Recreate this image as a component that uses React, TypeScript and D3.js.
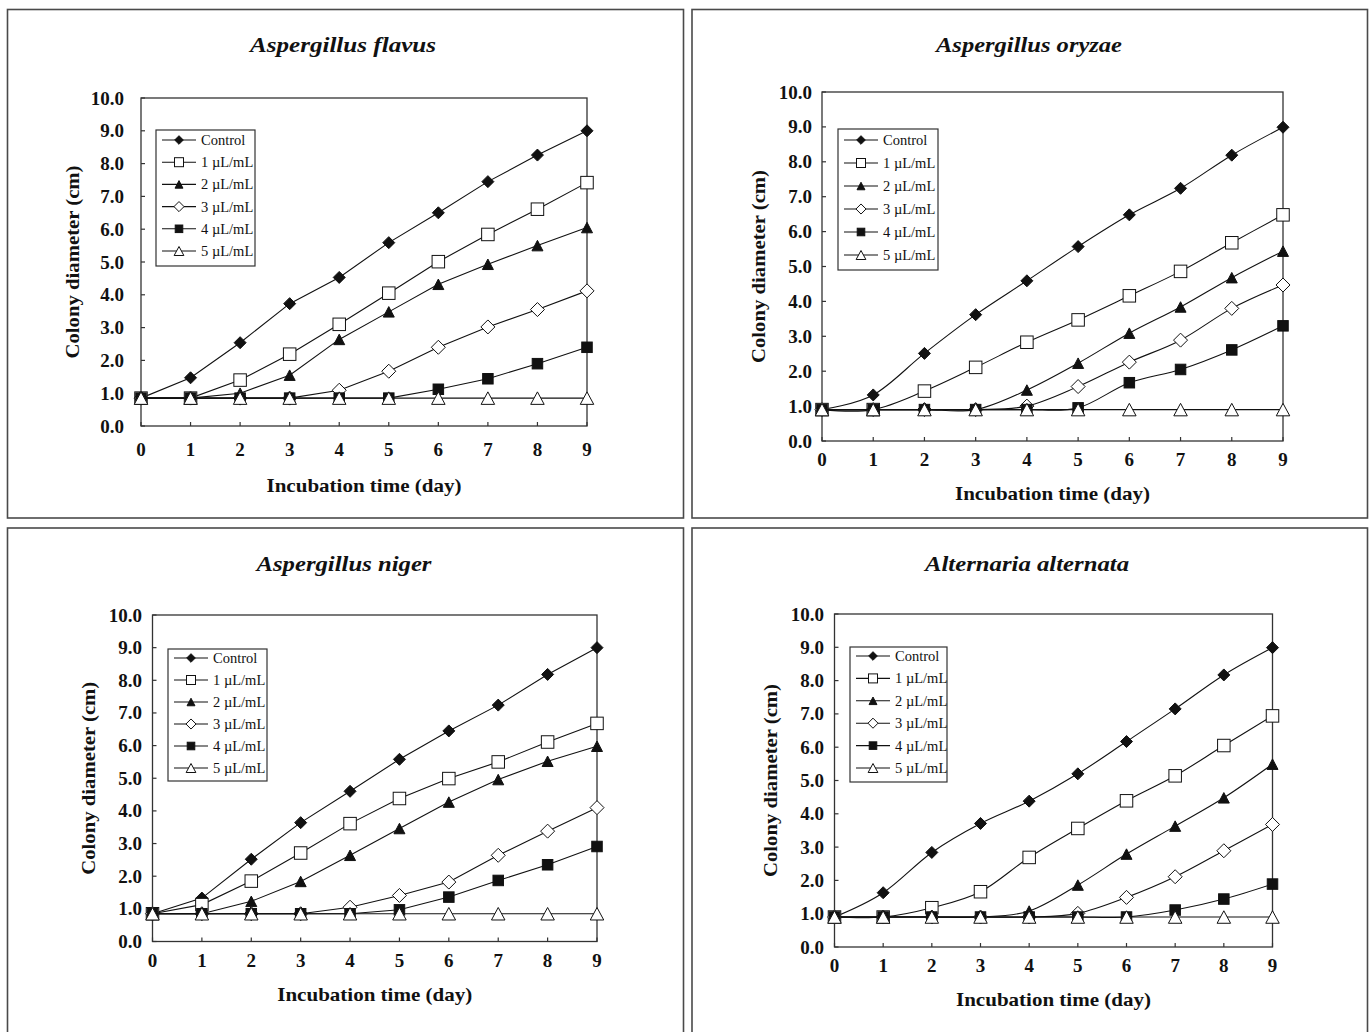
import * as d3 from "d3";

// x categories and tick labels
const days = [0, 1, 2, 3, 4, 5, 6, 7, 8, 9];
const yTicks = [0, 1, 2, 3, 4, 5, 6, 7, 8, 9, 10];
const seriesLabels = ["Control", "1 µL/mL", "2 µL/mL", "3 µL/mL", "4 µL/mL", "5 µL/mL"];

// Aspergillus flavus
const flavusControl = [0.85, 1.47, 2.54, 3.73, 4.53, 5.59, 6.5, 7.45, 8.26, 9.0];
const flavus1 = [0.85, 0.85, 1.4, 2.19, 3.1, 4.05, 5.01, 5.84, 6.61, 7.42];
const flavus2 = [0.85, 0.85, 1.0, 1.55, 2.64, 3.48, 4.32, 4.93, 5.5, 6.05];
const flavus3 = [0.85, 0.85, 0.85, 0.85, 1.09, 1.67, 2.4, 3.02, 3.55, 4.12];
const flavus4 = [0.85, 0.85, 0.85, 0.85, 0.85, 0.85, 1.12, 1.44, 1.9, 2.4];
const flavus5 = [0.85, 0.85, 0.85, 0.85, 0.85, 0.85, 0.85, 0.85, 0.85, 0.85];

// Aspergillus oryzae
const oryzaeControl = [0.9, 1.32, 2.51, 3.62, 4.59, 5.57, 6.48, 7.24, 8.19, 8.99];
const oryzae1 = [0.9, 0.9, 1.43, 2.11, 2.83, 3.47, 4.16, 4.86, 5.68, 6.48];
const oryzae2 = [0.9, 0.9, 0.9, 0.9, 1.46, 2.23, 3.09, 3.84, 4.68, 5.44];
const oryzae3 = [0.9, 0.9, 0.9, 0.9, 1.0, 1.56, 2.26, 2.89, 3.8, 4.47];
const oryzae4 = [0.9, 0.9, 0.9, 0.9, 0.9, 0.95, 1.67, 2.05, 2.61, 3.3];
const oryzae5 = [0.9, 0.9, 0.9, 0.9, 0.9, 0.9, 0.9, 0.9, 0.9, 0.9];

// Aspergillus niger
const nigerControl = [0.85, 1.33, 2.52, 3.64, 4.6, 5.58, 6.45, 7.24, 8.18, 9.0];
const niger1 = [0.85, 1.13, 1.85, 2.71, 3.61, 4.38, 4.99, 5.5, 6.11, 6.68];
const niger2 = [0.85, 0.85, 1.23, 1.84, 2.64, 3.46, 4.27, 4.96, 5.52, 5.98];
const niger3 = [0.85, 0.85, 0.85, 0.85, 1.05, 1.41, 1.82, 2.64, 3.38, 4.1];
const niger4 = [0.85, 0.85, 0.85, 0.85, 0.85, 0.97, 1.36, 1.87, 2.35, 2.91];
const niger5 = [0.85, 0.85, 0.85, 0.85, 0.85, 0.85, 0.85, 0.85, 0.85, 0.85];

// Alternaria alternata
const alternataControl = [0.9, 1.63, 2.84, 3.71, 4.38, 5.2, 6.17, 7.15, 8.17, 8.99];
const alternata1 = [0.9, 0.9, 1.18, 1.66, 2.69, 3.56, 4.39, 5.14, 6.05, 6.94];
const alternata2 = [0.9, 0.9, 0.9, 0.9, 1.08, 1.86, 2.79, 3.63, 4.48, 5.49];
const alternata3 = [0.9, 0.9, 0.9, 0.9, 0.9, 1.01, 1.49, 2.11, 2.89, 3.68];
const alternata4 = [0.9, 0.9, 0.9, 0.9, 0.9, 0.9, 0.9, 1.11, 1.44, 1.89];
const alternata5 = [0.9, 0.9, 0.9, 0.9, 0.9, 0.9, 0.9, 0.9, 0.9, 0.9];

const FONT = "'Liberation Serif', 'Times New Roman', serif";
const INK = "#111";

const markerKinds = ["diamondFilled", "squareOpen", "triangleFilled", "diamondOpen", "squareFilled", "triangleOpen"];

const panels = [
  {
    title: "Aspergillus flavus", titleLen: 186, titleX: 343, titleY: 45,
    series: [flavusControl, flavus1, flavus2, flavus3, flavus4, flavus5],
    frame: { x: 7.5, y: 9.5, w: 676, h: 508.5 },
    plot: { l: 141, r: 587, t: 98, b: 426 },
    yLabelGap: 17, xLabelDy: 30, yTitleX: 72, xTitleY: 485,
    legend: { x: 156, y: 130, w: 99, h: 136, row0: 140, step: 22.2 },
    smooth: false,
  },
  {
    title: "Aspergillus oryzae", titleLen: 186, titleX: 1029, titleY: 45,
    series: [oryzaeControl, oryzae1, oryzae2, oryzae3, oryzae4, oryzae5],
    frame: { x: 692, y: 9.5, w: 675.5, h: 508.5 },
    plot: { l: 822, r: 1283, t: 92, b: 441 },
    yLabelGap: 10, xLabelDy: 25, yTitleX: 758, xTitleY: 493,
    legend: { x: 838, y: 129, w: 100, h: 141, row0: 140, step: 23 },
    smooth: true,
  },
  {
    title: "Aspergillus niger", titleLen: 175, titleX: 344, titleY: 564,
    series: [nigerControl, niger1, niger2, niger3, niger4, niger5],
    frame: { x: 7.5, y: 528, w: 676, h: 520 },
    plot: { l: 152.5, r: 597, t: 615, b: 941.5 },
    yLabelGap: 10.5, xLabelDy: 25, yTitleX: 88, xTitleY: 994,
    legend: { x: 168, y: 649, w: 99, h: 132, row0: 658, step: 22 },
    smooth: false,
  },
  {
    title: "Alternaria alternata", titleLen: 204, titleX: 1027, titleY: 564,
    series: [alternataControl, alternata1, alternata2, alternata3, alternata4, alternata5],
    frame: { x: 692, y: 528, w: 675.5, h: 520 },
    plot: { l: 834.5, r: 1272.5, t: 614, b: 947 },
    yLabelGap: 10.5, xLabelDy: 25, yTitleX: 770, xTitleY: 999,
    legend: { x: 850, y: 647, w: 97, h: 135, row0: 656, step: 22.4 },
    smooth: true,
  },
];

function Marker({ kind, cx, cy, k = 1 }: { kind: string; cx: number; cy: number; k?: number }) {
  const common = { stroke: INK, strokeWidth: 1 };
  if (kind === "diamondFilled" || kind === "diamondOpen") {
    const r = (kind === "diamondFilled" ? 6 : 7) * k;
    const d = `M${cx},${cy - r}L${cx + r},${cy}L${cx},${cy + r}L${cx - r},${cy}Z`;
    return <path d={d} fill={kind === "diamondFilled" ? INK : "#fff"} {...common} />;
  }
  if (kind === "squareOpen" || kind === "squareFilled") {
    const s = (kind === "squareOpen" ? 12.5 : 10.5) * k;
    return <rect x={cx - s / 2} y={cy - s / 2} width={s} height={s} fill={kind === "squareFilled" ? INK : "#fff"} {...common} />;
  }
  const w = (kind === "triangleFilled" ? 11 : 13.5) * k;
  const h = (kind === "triangleFilled" ? 10.5 : 12.5) * k;
  const d = `M${cx},${cy - h / 2}L${cx + w / 2},${cy + h / 2}L${cx - w / 2},${cy + h / 2}Z`;
  return <path d={d} fill={kind === "triangleFilled" ? INK : "#fff"} {...common} />;
}

function Panel({ p }: { p: (typeof panels)[number] }) {
  const x = d3.scaleLinear().domain([0, 9]).range([p.plot.l, p.plot.r]);
  const y = d3.scaleLinear().domain([0, 10]).range([p.plot.b, p.plot.t]);
  const line = d3
    .line<number>()
    .x((_, i) => x(days[i]))
    .y((d) => y(d))
    .curve(p.smooth ? d3.curveCardinal.tension(0) : d3.curveLinear);
  const midX = (p.plot.l + p.plot.r) / 2;
  const midY = (p.plot.t + p.plot.b) / 2;
  const lg = p.legend;

  return (
    <g>
      <rect x={p.frame.x} y={p.frame.y} width={p.frame.w} height={p.frame.h} fill="#fff" stroke="#4a4a4a" strokeWidth={1.6} />
      <text x={p.titleX} y={p.titleY} textAnchor="middle" dominantBaseline="central" fontFamily={FONT}
        fontStyle="italic" fontWeight="bold" fontSize={21} textLength={p.titleLen} lengthAdjust="spacingAndGlyphs" fill={INK}>
        {p.title}
      </text>

      {/* axes box and ticks */}
      <rect x={p.plot.l} y={p.plot.t} width={p.plot.r - p.plot.l} height={p.plot.b - p.plot.t} fill="none" stroke="#333" strokeWidth={1.3} />
      {yTicks.map((t) => (
        <g key={"y" + t}>
          <line x1={p.plot.l} x2={p.plot.l + 4} y1={y(t)} y2={y(t)} stroke="#333" strokeWidth={1.2} />
          <text x={p.plot.l - p.yLabelGap} y={y(t)} textAnchor="end" dominantBaseline="central" fontFamily={FONT}
            fontWeight="bold" fontSize={19} fill={INK}>
            {t.toFixed(1)}
          </text>
        </g>
      ))}
      {days.map((t) => (
        <g key={"x" + t}>
          <line x1={x(t)} x2={x(t)} y1={p.plot.b} y2={p.plot.b - 4} stroke="#333" strokeWidth={1.2} />
          <text x={x(t)} y={p.plot.b + p.xLabelDy} textAnchor="middle" fontFamily={FONT} fontWeight="bold" fontSize={19} fill={INK}>
            {t}
          </text>
        </g>
      ))}
      <text x={midX} y={p.xTitleY} textAnchor="middle" dominantBaseline="central" fontFamily={FONT} fontWeight="bold"
        fontSize={19.5} textLength={195} lengthAdjust="spacingAndGlyphs" fill={INK}>
        Incubation time (day)
      </text>
      <text transform={`translate(${p.yTitleX},${midY}) rotate(-90)`} textAnchor="middle" dominantBaseline="central"
        fontFamily={FONT} fontWeight="bold" fontSize={19.5} textLength={193} lengthAdjust="spacingAndGlyphs" fill={INK}>
        Colony diameter (cm)
      </text>

      {/* series */}
      {p.series.map((s, si) => (
        <g key={"s" + si}>
          <path d={line(s) ?? ""} fill="none" stroke={INK} strokeWidth={1.1} />
          {s.map((v, i) => (
            <Marker key={i} kind={markerKinds[si]} cx={x(days[i])} cy={y(v)} />
          ))}
        </g>
      ))}

      {/* legend */}
      <rect x={lg.x} y={lg.y} width={lg.w} height={lg.h} fill="#fff" stroke="#333" strokeWidth={1.2} />
      {seriesLabels.map((lab, i) => {
        const ry = lg.row0 + i * lg.step;
        return (
          <g key={"l" + i}>
            <line x1={lg.x + 6} x2={lg.x + 40} y1={ry} y2={ry} stroke={INK} strokeWidth={1.1} />
            <Marker kind={markerKinds[i]} cx={lg.x + 23} cy={ry} k={0.72} />
            <text x={lg.x + 45} y={ry} dominantBaseline="central" fontFamily={FONT} fontSize={14.5} fill={INK}>
              {lab}
            </text>
          </g>
        );
      })}
    </g>
  );
}

export default function App() {
  return (
    <div style={{ position: "absolute", left: 0, top: 0, width: 1370, height: 1032, overflow: "hidden", background: "#fff" }}>
      <svg width={1370} height={1032} style={{ display: "block" }}>
        <rect width={1370} height={1032} fill="#fff" />
        {panels.map((p, i) => (
          <Panel key={i} p={p} />
        ))}
      </svg>
    </div>
  );
}
